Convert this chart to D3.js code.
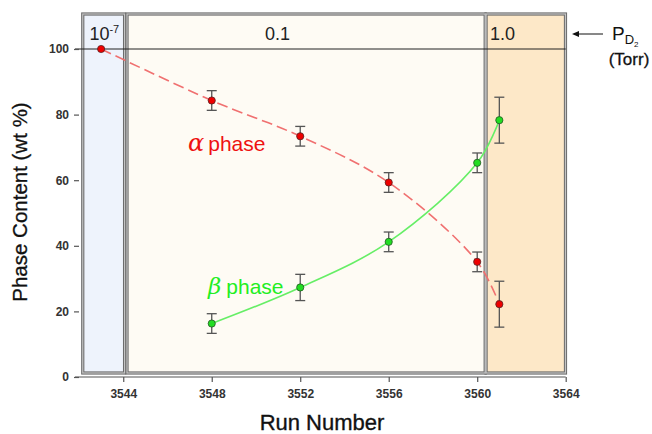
<!DOCTYPE html>
<html>
<head>
<meta charset="utf-8">
<script src="https://cdn.jsdelivr.net/npm/d3@7"></script>
<style>
  html, body { margin: 0; padding: 0; background: #ffffff; }
  svg { display: block; font-family: Arial, "Liberation Sans", sans-serif; }
</style>
</head>
<body>
<svg id="chart" width="652" height="434"></svg>
<script>
// ---- data ----
const alphaRuns   = [3543, 3548, 3552, 3556, 3560, 3561];
const alphaValues = [100, 84.3, 73.4, 59.3, 35.1, 22.2];
const alphaErrors = [0, 3, 3, 3, 3, 7];

const betaRuns    = [3548, 3552, 3556, 3560, 3561];
const betaValues  = [16.3, 27.3, 41.2, 65.3, 78.3];
const betaErrors  = [3, 4, 3, 3, 7];

const xTicks = [3544, 3548, 3552, 3556, 3560, 3564];
const yTicks = [0, 20, 40, 60, 80, 100];

const regionLabels = ["10", "0.1", "1.0"];
const regionStarts = [3542.17, 3544.17, 3560.40];
const regionEnds   = [3544.06, 3560.36, 3563.99];
const regionFills  = ["#eef3fc", "#fefbf4", "#fde8c8"];

// ---- scales ----
const svg = d3.select("#chart");
const x = d3.scaleLinear().domain([3542, 3564]).range([79, 565.7]);
const y = d3.scaleLinear().domain([0, 100]).range([377, 49]);
const boxTop = 14, boxBottom = 373;

// ---- pressure regions ----
const regions = regionLabels.map((l, i) => ({label: l, x0: regionStarts[i], x1: regionEnds[i], fill: regionFills[i]}));
const rg = svg.append("g");
rg.selectAll("rect.fill").data(regions).join("rect")
  .attr("x", d => x(d.x0)).attr("y", boxTop)
  .attr("width", d => x(d.x1) - x(d.x0)).attr("height", boxBottom - boxTop)
  .attr("fill", d => d.fill)
  .attr("stroke", "#6a6a6a").attr("stroke-width", 3.2);
rg.selectAll("rect.inner").data(regions).join("rect")
  .attr("x", d => x(d.x0)).attr("y", boxTop)
  .attr("width", d => x(d.x1) - x(d.x0)).attr("height", boxBottom - boxTop)
  .attr("fill", "none")
  .attr("stroke", "#c4c4c4").attr("stroke-width", 1.2);

// horizontal line at 100
svg.append("line")
  .attr("x1", 75).attr("x2", x(3564)).attr("y1", y(100)).attr("y2", y(100))
  .attr("stroke", "#222").attr("stroke-width", 1);

// region labels
const lblY = 40;
const t0 = svg.append("text").attr("x", x(3542.2) + 6).attr("y", lblY)
  .attr("font-size", 18).attr("fill", "#222");
t0.append("tspan").text(regionLabels[0]);
t0.append("tspan").attr("dy", -7).attr("font-size", 11).text("-7");
svg.append("text").attr("x", 290).attr("y", lblY).attr("text-anchor", "end")
  .attr("font-size", 18).attr("fill", "#222").text(regionLabels[1]);
svg.append("text").attr("x", x(regionStarts[2]) + 4).attr("y", lblY)
  .attr("font-size", 18).attr("fill", "#222").text(regionLabels[2]);

// ---- axes ----
const xAxis = svg.append("g").attr("transform", `translate(0,${y(0)})`)
  .call(d3.axisBottom(x).tickValues(xTicks).tickSize(5).tickPadding(7).tickFormat(d3.format("d")));
const yAxis = svg.append("g").attr("transform", `translate(${x(3542)},0)`)
  .call(d3.axisLeft(y).tickValues(yTicks).tickSize(5).tickPadding(5));
[xAxis, yAxis].forEach(a => {
  a.select(".domain").attr("stroke", "#555").attr("stroke-width", 1.2);
  a.selectAll(".tick line").attr("stroke", "#555").attr("stroke-width", 1.2);
  a.selectAll(".tick text").attr("font-size", 12).attr("font-weight", "bold")
    .attr("fill", "#333").attr("font-family", "Arial, 'Liberation Sans', sans-serif");
});
yAxis.select(".domain").remove();
xAxis.select(".domain").attr("d", `M${x(3542) - 4},0H${x(3564)}`);

// axis titles
svg.append("text").attr("x", 322).attr("y", 430).attr("text-anchor", "middle")
  .attr("font-size", 22).attr("fill", "#111").attr("stroke", "#111").attr("stroke-width", 0.35)
  .text("Run Number");
svg.append("text").attr("transform", "translate(27,202) rotate(-90)")
  .attr("text-anchor", "middle").attr("font-size", 20.5).attr("fill", "#111")
  .attr("stroke", "#111").attr("stroke-width", 0.3)
  .text("Phase Content (wt %)");

// ---- series ----
const alpha = alphaRuns.map((r, i) => ({x: r, y: alphaValues[i], e: alphaErrors[i]}));
const beta  = betaRuns.map((r, i) => ({x: r, y: betaValues[i], e: betaErrors[i]}));
const line = d3.line().x(d => x(d.x)).y(d => y(d.y)).curve(d3.curveCatmullRom.alpha(0.5));

svg.append("path").datum(alpha).attr("d", line).attr("fill", "none")
  .attr("stroke", "#f07070").attr("stroke-width", 1.6).attr("stroke-dasharray", "11,5");
svg.append("path").datum(beta).attr("d", line).attr("fill", "none")
  .attr("stroke", "#66ee66").attr("stroke-width", 1.6);

function drawErr(data) {
  const g = svg.append("g").attr("stroke", "#555").attr("stroke-width", 1.3);
  const withErr = data.filter(d => d.e > 0);
  g.selectAll("line.v").data(withErr).join("line")
    .attr("x1", d => x(d.x)).attr("x2", d => x(d.x))
    .attr("y1", d => y(d.y + d.e)).attr("y2", d => y(d.y - d.e));
  g.selectAll("line.t").data(withErr).join("line")
    .attr("x1", d => x(d.x) - 5).attr("x2", d => x(d.x) + 5)
    .attr("y1", d => y(d.y + d.e)).attr("y2", d => y(d.y + d.e));
  g.selectAll("line.b").data(withErr).join("line")
    .attr("x1", d => x(d.x) - 5).attr("x2", d => x(d.x) + 5)
    .attr("y1", d => y(d.y - d.e)).attr("y2", d => y(d.y - d.e));
}
drawErr(alpha);
drawErr(beta);

svg.append("g").selectAll("circle").data(alpha).join("circle")
  .attr("cx", d => x(d.x)).attr("cy", d => y(d.y)).attr("r", 3.6)
  .attr("fill", "#ee0000").attr("stroke", "#552222").attr("stroke-width", 0.8);
svg.append("g").selectAll("circle").data(beta).join("circle")
  .attr("cx", d => x(d.x)).attr("cy", d => y(d.y)).attr("r", 3.6)
  .attr("fill", "#22dd22").attr("stroke", "#225522").attr("stroke-width", 0.8);

// series labels
const aLbl = svg.append("text").attr("x", 188).attr("y", 151).attr("fill", "#ee1111").attr("font-size", 21);
aLbl.append("tspan").attr("font-family", "'DejaVu Serif', serif").attr("font-style", "italic").attr("font-size", 24).text("α");
aLbl.append("tspan").attr("dx", 4).text("phase");
const bLbl = svg.append("text").attr("x", 208).attr("y", 294).attr("fill", "#22ee22").attr("font-size", 21);
bLbl.append("tspan").attr("font-family", "'DejaVu Serif', serif").attr("font-style", "italic").attr("font-size", 23).text("β");
bLbl.append("tspan").attr("dx", 5).text("phase");

// pressure annotation
svg.append("line").attr("x1", 576).attr("x2", 603).attr("y1", 34).attr("y2", 34)
  .attr("stroke", "#111").attr("stroke-width", 1);
svg.append("path").attr("d", "M572,34 L579,31 L579,37 Z").attr("fill", "#111");
const p = svg.append("text").attr("x", 612).attr("y", 40).attr("fill", "#111").attr("font-size", 19);
p.append("tspan").text("P");
p.append("tspan").attr("font-size", 13).attr("dy", 4).text("D");
p.append("tspan").attr("font-size", 8).attr("dy", 3).text("2");
svg.append("text").attr("x", 629).attr("y", 65).attr("text-anchor", "middle")
  .attr("fill", "#111").attr("font-size", 17).attr("stroke", "#111").attr("stroke-width", 0.3)
  .text("(Torr)");
</script>
</body>
</html>
